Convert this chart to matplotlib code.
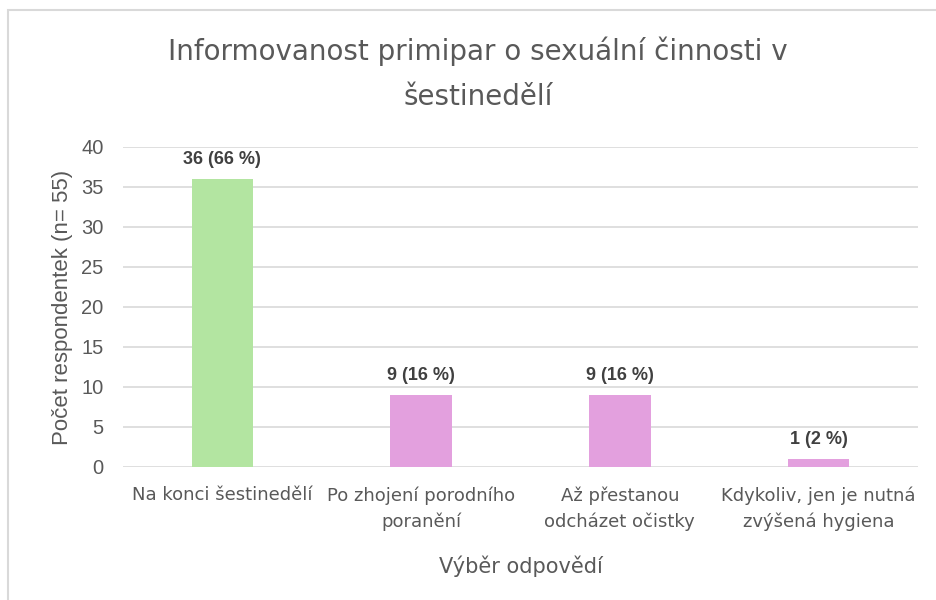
import matplotlib.pyplot as plt
from matplotlib.patches import Rectangle

# data
categories = ["Na konci šestinedělí", "Po zhojení porodního\nporanění",
              "Až přestanou\nodcházet očistky", "Kdykoliv, jen je nutná\nzvýšená hygiena"]
counts = [36, 9, 9, 1]
percents = [66, 16, 16, 2]
bar_colors = ["#b3e5a1", "#e3a0de", "#e3a0de", "#e3a0de"]

plt.rcParams['font.family'] = ['Liberation Sans', 'DejaVu Sans']

W, H = 937, 600
fig = plt.figure(figsize=(W / 100, H / 100), dpi=100)
ax = fig.add_axes([123 / W, 1 - 467 / H, (918 - 123) / W, (467 - 147) / H])

x = range(len(categories))
ax.bar(x, counts, width=0.31, color=bar_colors, zorder=3)
for i, (c, p) in enumerate(zip(counts, percents)):
    ax.text(i, c + 1.4, f"{c} ({p} %)", ha='center', va='bottom', fontsize=13,
            fontweight='bold', color='#404040')

ax.set_xlim(-0.5, len(categories) - 0.5)
ax.set_ylim(0, 40)
ax.set_yticks(range(0, 41, 5))
ax.grid(axis='y', color='#d9d9d9', linewidth=1.2, zorder=0)
for s in ax.spines.values():
    s.set_visible(False)
ax.tick_params(length=0)
ax.tick_params(axis='y', labelsize=14.5, labelcolor='#595959', pad=14)
ax.set_xticks(list(x))
ax.set_xticklabels(categories, fontsize=13, color='#595959', linespacing=1.55,
                   family=['DejaVu Sans'])
ax.tick_params(axis='x', pad=14)

ax.set_ylabel("Počet respondentek (n= 55)", fontsize=16, color='#595959', labelpad=6)
ax.set_xlabel("Výběr odpovědí", fontsize=15, color='#595959', labelpad=17,
              family=['DejaVu Sans'])

fig.text(478 / W, 1 - 74 / H, "Informovanost primipar o sexuální činnosti v\nšestinedělí",
         ha='center', va='center', fontsize=20, color='#595959', linespacing=1.75,
         family=['DejaVu Sans'])

# outer chart frame
fig.patches.append(Rectangle((8 / W, -0.1), 1.1, 1 - 10 / H + 0.1, transform=fig.transFigure,
                             fill=False, edgecolor='#d9d9d9', linewidth=1.5, figure=fig))

fig.savefig("out.png", dpi=100)
